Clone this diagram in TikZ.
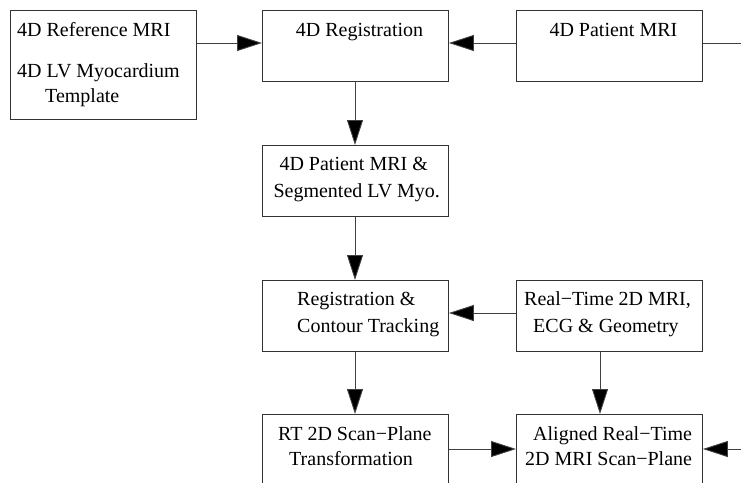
\documentclass[tikz,border=0pt]{standalone}
\usepackage{fontspec}
\setmainfont{Liberation Serif}
\usetikzlibrary{arrows.meta}
\begin{document}
\begin{tikzpicture}[x=1pt,y=-1pt,
  blockbox/.style={draw=black!80, line width=0.9pt, rectangle, inner sep=0pt,
    anchor=north west, minimum width=186pt},
  label/.style={anchor=base west, inner sep=0pt, font=\fontsize{20}{24}\selectfont},
  flow/.style={draw=black!75, line width=0.9pt,
    -{Triangle[length=25pt,width=16pt,fill=black]}},
  plain/.style={draw=black!75, line width=0.9pt}]
\clip (0,0) rectangle (741,482);
\fill[white] (0,0) rectangle (741,482);

% boxes
\node[blockbox, minimum height=109pt] (ref) at (10,10) {};
\node[blockbox, minimum height=71pt] (reg) at (262,10) {};
\node[blockbox, minimum height=71pt] (pat) at (516,10) {};
\node[blockbox, minimum height=71pt] (seg) at (262,145) {};
\node[blockbox, minimum height=71pt] (track) at (262,280) {};
\node[blockbox, minimum height=71pt] (rt) at (516,280) {};
\node[blockbox, minimum height=100pt] (xform) at (262,414) {};
\node[blockbox, minimum height=100pt] (align) at (516,414) {};

% texts
\node[label] (t1) at (17,36) {4D Reference MRI};
\node[label] (t2) at (17,77) {4D LV Myocardium};
\node[label] (t3) at (45,102) {Template};
\node[label] (t4) at (295.7,36) {4D Registration};
\node[label] (t5) at (549.3,36) {4D Patient MRI};
\node[label] (t6) at (279.3,170) {4D Patient MRI \&};
\node[label] (t7) at (273.3,197) {Segmented LV Myo.};
\node[label] (t8) at (297,305) {Registration \&};
\node[label] (t9) at (297,332) {Contour Tracking};
\node[label] (t10) at (524,305) {Real−Time 2D MRI,};
\node[label] (t11) at (533,332) {ECG \& Geometry};
\node[label] (t12) at (278,440) {RT 2D Scan−Plane};
\node[label] (t13) at (289,465) {Transformation};
\node[label] (t14) at (533,440) {Aligned Real−Time};
\node[label] (t15) at (525,465) {2D MRI Scan−Plane};

% free ends at the right edge
\coordinate (outtop) at (745,43);
\coordinate (inbot) at (745,449);

% connectors
\draw[flow] (ref.east |- 0,43) -- (reg.west |- 0,43);
\draw[flow] (pat.west |- 0,43) -- (reg.east |- 0,43);
\draw[plain] (pat.east |- 0,43) -- (outtop);
\draw[flow] (355,81) -- (seg.north -| 355,0);
\draw[flow] (seg.south -| 355,0) -- (track.north -| 355,0);
\draw[flow] (rt.west |- 0,313) -- (track.east |- 0,313);
\draw[flow] (track.south -| 355,0) -- (xform.north -| 355,0);
\draw[flow] (rt.south -| 600,0) -- (align.north -| 600,0);
\draw[flow] (xform.east |- 0,449) -- (align.west |- 0,449);
\draw[flow] (inbot) -- (align.east |- 0,449);
\end{tikzpicture}
\end{document}
